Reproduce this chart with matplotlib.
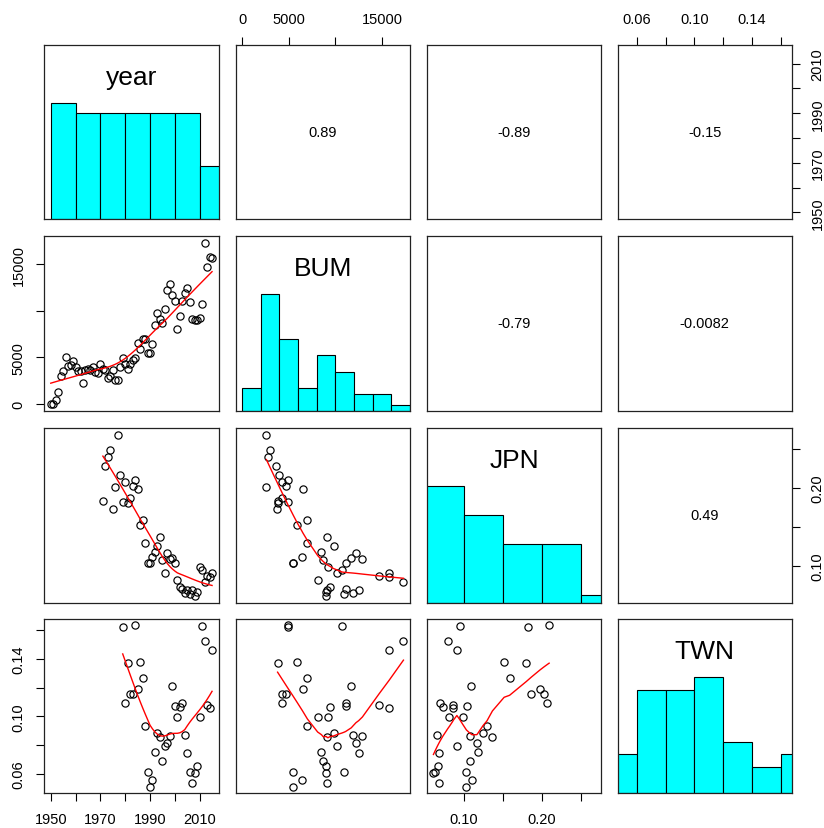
import numpy as np
import matplotlib
matplotlib.use('Agg')
import matplotlib.pyplot as plt

plt.rcParams['font.family'] = ['Liberation Sans', 'DejaVu Sans']

nan = np.nan

# ---------------- data ----------------
names = ['year', 'BUM', 'JPN', 'TWN']

year = [1950, 1951, 1952, 1953, 1954, 1955, 1956, 1957, 1958, 1959,
        1960, 1961, 1962, 1963, 1964, 1965, 1966, 1967, 1968, 1969,
        1970, 1971, 1972, 1973, 1974, 1975, 1976, 1977, 1978, 1979,
        1980, 1981, 1982, 1983, 1984, 1985, 1986, 1987, 1988, 1989,
        1990, 1991, 1992, 1993, 1994, 1995, 1996, 1997, 1998, 1999,
        2000, 2001, 2002, 2003, 2004, 2005, 2006, 2007, 2008, 2009,
        2010, 2011, 2012, 2013, 2014, 2015]

BUM = [0, 0, 430, 1300, 3000, 3500, 5000, 4100, 4200, 4600,
       3950, 3500, 3500, 2300, 3600, 3800, 3600, 3950, 3400, 3300,
       4300, 3800, 3600, 2800, 3000, 3700, 2600, 2600, 3980, 4900,
       4300, 3800, 4300, 4700, 4900, 6500, 5900, 7000, 7000, 5500,
       5500, 6400, 8500, 9800, 9100, 8700, 10200, 12200, 12900, 11700,
       11100, 8100, 9400, 11100, 11900, 12500, 10900, 9100, 9000, 9000,
       9200, 10700, 17300, 14700, 15800, 15700]

JPN = [nan] * 21 + [
       0.183, 0.228, 0.240, 0.248, 0.173, 0.2006, 0.268, 0.217, 0.182,
       0.2075, 0.1805, 0.187, 0.203, 0.2096, 0.198, 0.152, 0.159, 0.130, 0.1035,
       0.1035, 0.111, 0.118, 0.125, 0.137, 0.108, 0.0915, 0.117, 0.1086, 0.110,
       0.104, 0.082, 0.0735, 0.070, 0.066, 0.069, 0.064, 0.069, 0.0615, 0.067,
       0.099, 0.095, 0.080, 0.087, 0.086, 0.0915]

TWN = [nan] * 29 + [
       0.162,
       0.1095, 0.1374, 0.1156, 0.1156, 0.1633, 0.119, 0.138, 0.127, 0.093, 0.0614,
       0.0509, 0.0556, 0.0749, 0.0884, 0.0853, 0.0691, 0.0791, 0.0814, 0.086, 0.121,
       0.1074, 0.0993, 0.1063, 0.1091, 0.0872, 0.0744, 0.0614, 0.0535, 0.0605, 0.0656,
       0.0993, 0.1626, 0.1523, 0.1081, 0.1058, 0.1463]

# correlation labels shown in the upper panels (row, col) -> text
cor_text = {(0, 1): '0.89', (0, 2): '-0.89', (0, 3): '-0.15',
            (1, 2): '-0.79', (1, 3): '-0.0082', (2, 3): '0.49'}

hist_step = [10, 2000, 0.05, 0.02]

tick_vals = [[1950, 1960, 1970, 1980, 1990, 2000, 2010],
             [0, 5000, 10000, 15000],
             [0.10, 0.15, 0.20, 0.25],
             [0.06, 0.08, 0.10, 0.12, 0.14, 0.16]]
tick_labs = [['1950', '', '1970', '', '1990', '', '2010'],
             ['0', '5000', '', '15000'],
             ['0.10', '', '0.20', ''],
             ['0.06', '', '0.10', '', '0.14', '']]

data = [np.array(v, dtype=float) for v in (year, BUM, JPN, TWN)]


def lowess(x, y, f=2 / 3, it=3):
    o = np.argsort(x, kind='stable')
    x = x[o]
    y = y[o]
    n = len(x)
    ns = max(2, min(n, int(f * n + 1e-7)))
    rng = x[-1] - x[0]
    rw = np.ones(n)
    ys = np.zeros(n)
    for itn in range(it + 1):
        nleft, nright = 0, ns - 1
        for i in range(n):
            xs = x[i]
            while nright < n - 1:
                d1 = xs - x[nleft]
                d2 = x[nright + 1] - xs
                if d1 <= d2:
                    break
                nleft += 1
                nright += 1
            h = max(xs - x[nleft], x[nright] - xs)
            h9, h1 = 0.999 * h, 0.001 * h
            w = np.zeros(n)
            j = nleft
            while j < n:
                r = abs(x[j] - xs)
                if r <= h9:
                    w[j] = 1.0 if r <= h1 else (1 - (r / h) ** 3) ** 3
                    if itn > 0:
                        w[j] *= rw[j]
                elif x[j] > xs:
                    break
                j += 1
            a = w.sum()
            if a <= 0:
                ys[i] = y[i]
                continue
            w = w / a
            if h > 0:
                a = (w * x).sum()
                c = (w * (x - a) ** 2).sum()
                if np.sqrt(c) > 0.001 * rng:
                    b = (xs - a) / c
                    w = w * (b * (x - a) + 1)
            ys[i] = (w * y).sum()
        if itn == it:
            break
        res = y - ys
        cmad = 6 * np.median(np.abs(res))
        if cmad < 1e-7 * np.mean(np.abs(y)):
            break
        c1, c9 = 0.001 * cmad, 0.999 * cmad
        ar = np.abs(res)
        rw = np.where(ar <= c1, 1.0,
                      np.where(ar <= c9, (1 - (ar / cmad) ** 2) ** 2, 0.0))
    return x, ys


lims = []
for v in data:
    v = v[np.isfinite(v)]
    lo, hi = v.min(), v.max()
    r = hi - lo
    lims.append((lo - 0.04 * r, hi + 0.04 * r))

W, H = 824, 829
fig = plt.figure(figsize=(W / 100, H / 100), dpi=100)
col_x = [44.3, 235.7, 427.0, 617.5]
row_y = [45.7, 237.3, 429.3, 620.0]
size = 174.2

tick_kw = dict(direction='out', length=5.5, width=0.8, labelsize=10.5, pad=8, colors='black')

for i in range(4):
    for j in range(4):
        ax = fig.add_axes([col_x[j] / W, 1 - (row_y[i] + size) / H, size / W, size / H])
        for s in ax.spines.values():
            s.set_linewidth(0.9)
            s.set_color('#222222')
        ax.set_xlim(lims[j])
        ax.set_xticks([])
        ax.set_yticks([])
        if i == j:
            v = data[i][np.isfinite(data[i])]
            st = hist_step[i]
            lo = np.floor(v.min() / st + 1e-9) * st
            hi = np.ceil(v.max() / st - 1e-9) * st
            nb = int(round((hi - lo) / st))
            edges = lo + st * np.arange(nb + 1)
            idx = np.searchsorted(edges, v - 1e-12 * st, side='left') - 1
            idx = np.clip(idx, 0, nb - 1)
            counts = np.bincount(idx, minlength=nb)
            ax.bar(edges[:-1], counts / counts.max(), width=st, align='edge',
                   color='#00FFFF', edgecolor='black', linewidth=0.8)
            ax.set_ylim(0, 1.5)
            ax.text(0.5, 0.775, names[i], transform=ax.transAxes, ha='center',
                    va='baseline', fontsize=19)
        elif i > j:
            x = data[j]
            y = data[i]
            ok = np.isfinite(x) & np.isfinite(y)
            ax.plot(x[ok], y[ok], 'o', mfc='none', mec='black', ms=5.2, mew=0.85)
            lx, ly = lowess(x[ok], y[ok])
            ax.plot(lx, ly, color='red', lw=1.0)
            ax.set_ylim(lims[i])
        else:
            ax.set_ylim(lims[i])
            ax.text(0.5, 0.5, cor_text[(i, j)], transform=ax.transAxes,
                    ha='center', va='center', fontsize=10.5)

        # outer axes (R pairs alternating style)
        if i == 3 and j % 2 == 0:
            ax.set_xticks(tick_vals[j])
            ax.set_xticklabels(tick_labs[j])
            ax.tick_params(axis='x', **tick_kw)
        if i == 0 and j % 2 == 1:
            ax.xaxis.tick_top()
            ax.set_xticks(tick_vals[j])
            ax.set_xticklabels(tick_labs[j])
            ax.tick_params(axis='x', **tick_kw)
        if j == 0 and i % 2 == 1:
            ax.set_yticks(tick_vals[i])
            ax.set_yticklabels(tick_labs[i], rotation=90, va='center')
            ax.tick_params(axis='y', **tick_kw)
        if j == 3 and i % 2 == 0:
            ax.yaxis.tick_right()
            ax.set_yticks(tick_vals[i])
            ax.set_yticklabels(tick_labs[i], rotation=90, va='center')
            ax.tick_params(axis='y', **tick_kw)
        ax.set_xlim(lims[j])
        if i != j:
            ax.set_ylim(lims[i])

fig.savefig('out.png', dpi=100)
